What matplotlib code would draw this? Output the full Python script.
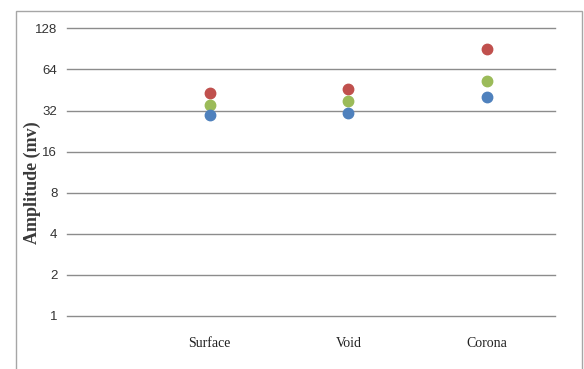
import matplotlib
matplotlib.use("Agg")
import matplotlib.pyplot as plt
from matplotlib.patches import Rectangle

# Discharge types and measured amplitudes (mV) for three series
categories = ["Surface", "Void", "Corona"]
series_red = [42.9, 45.7, 90.5]
series_green = [35.2, 37.5, 52.6]
series_blue = [29.7, 30.8, 40.0]
y_ticks = [1, 2, 4, 8, 16, 32, 64, 128]

colors = {"red": "#C0504D", "green": "#9BBB59", "blue": "#4F81BD"}

W, H = 584, 369
fig = plt.figure(figsize=(W / 100, H / 100), dpi=100)
fig.patch.set_facecolor("white")

# outer chart-area border
fig.patches.append(Rectangle((15.5 / W, -0.05), (581.5 - 15.5) / W, 1.05 - 10.5 / H,
                             transform=fig.transFigure, fill=False,
                             edgecolor="#a6a6a6", linewidth=1.0))

ax = fig.add_axes([67 / W, 1 - 316 / H, (555 - 67) / W, (316 - 28.3) / H])
ax.set_yscale("log", base=2)
ax.set_ylim(1, 128)
x = [1, 2, 3]
ax.set_xlim(-0.03, 3.49)

for vals, c in ((series_red, "red"), (series_green, "green"), (series_blue, "blue")):
    ax.plot(x, vals, linestyle="none", marker="o", markersize=7.5,
            markerfacecolor=colors[c], markeredgecolor=colors[c], zorder=3)

ax.set_yticks(y_ticks)
ax.set_yticklabels([str(t) for t in y_ticks], family="Liberation Sans", fontsize=9.5,
                   color="#333333")
ax.yaxis.set_minor_locator(matplotlib.ticker.NullLocator())
ax.grid(axis="y", color="#8c8c8c", linewidth=1.0)
for gl in ax.get_ygridlines():
    gl.set_clip_on(False)
ax.set_axisbelow(True)
ax.tick_params(axis="y", length=0, pad=7)

ax.set_xticks(x)
ax.set_xticklabels(categories, family="Liberation Serif", fontsize=10, color="#222222")
ax.tick_params(axis="x", length=0, pad=15)

for s in ax.spines.values():
    s.set_visible(False)

fig.text(32 / W, 1 - 183 / H, "Amplitude (mv)", rotation=90, ha="center", va="center",
         family="Liberation Serif", fontweight="bold", fontsize=13, color="#3a3a3a")

fig.savefig("out.png", dpi=100)
